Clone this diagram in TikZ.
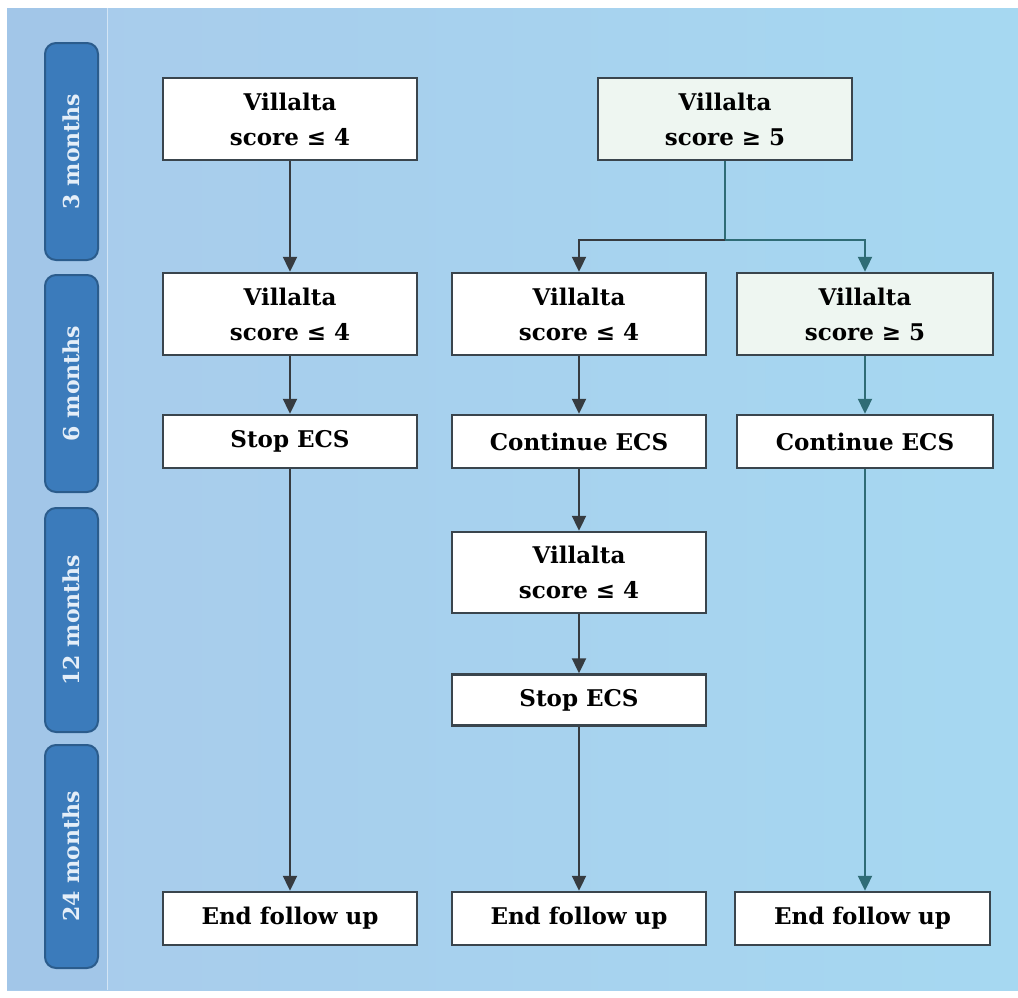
\documentclass[tikz,border=0pt]{standalone}
\usepackage{fontspec}
\setmainfont{DejaVu Serif}
\usetikzlibrary{arrows.meta}

\definecolor{panelL}{HTML}{A8CBEB}
\definecolor{panelR}{HTML}{A6D8F1}
\definecolor{stripc}{HTML}{A2C6E8}
\definecolor{tabfill}{HTML}{3B7BBB}
\definecolor{tabline}{HTML}{2B5C8C}
\definecolor{tabtext}{HTML}{E4EEF8}
\definecolor{boxline}{HTML}{3A454D}
\definecolor{greenish}{HTML}{EEF6F1}
\definecolor{linkgray}{HTML}{363B40}
\definecolor{linkteal}{HTML}{2F6C76}

\tikzset{
  box/.style={draw=boxline, line width=2.4pt, fill=white, inner sep=0pt,
    align=center, minimum width=254pt, text=black,
    font=\fontsize{23}{35}\selectfont\bfseries},
  twoline/.style={box, minimum height=82pt},
  oneline/.style={box, minimum height=53pt},
  tinted/.style={fill=greenish},
  tab/.style={draw=tabline, fill=tabfill, line width=2pt, rounded corners=11pt},
  tablabel/.style={rotate=90, text=tabtext, font=\fontsize{22}{26}\selectfont\bfseries},
  link/.style={draw=linkgray, line width=2pt,
    -{Triangle[length=15pt,width=14pt]}},
  tlink/.style={link, draw=linkteal},
}

\begin{document}
\begin{tikzpicture}[x=1pt,y=-1pt]
\useasboundingbox (0,0) rectangle (1018,997);

% background panel and timeline strip
\shade[left color=panelL, right color=panelR] (7,8) rectangle (1018,990);
\fill[stripc] (7,8) rectangle (107,990);
\draw[white, opacity=0.5, line width=1pt] (107,8) -- (107,990);

% time tabs
\draw[tab] (45,43) rectangle (98,260);
\node[tablabel] (t3) at (71.5,151.5) {3 months};
\draw[tab] (45,275) rectangle (98,492);
\node[tablabel] (t6) at (71.5,383.5) {6 months};
\draw[tab] (45,508) rectangle (98,732);
\node[tablabel] (t12) at (71.5,620) {12 months};
\draw[tab] (45,745) rectangle (98,968);
\node[tablabel] (t24) at (71.5,856.5) {24 months};

% 3 months
\node[twoline] (A) at (290,119) {Villalta\\score ≤ 4};
\node[twoline, tinted] (B) at (725,119) {Villalta\\score ≥ 5};

% 6 months
\node[twoline] (L6a) at (290,314) {Villalta\\score ≤ 4};
\node[twoline] (M6a) at (579,314) {Villalta\\score ≤ 4};
\node[twoline, tinted, minimum width=256pt] (R6a) at (865,314) {Villalta\\score ≥ 5};
\node[oneline] (L6b) at (290,441.5) {Stop ECS};
\node[oneline] (M6b) at (579,441.5) {Continue ECS};
\node[oneline, minimum width=256pt] (R6b) at (865,441.5) {Continue ECS};

% 12 months
\node[twoline, minimum height=81pt] (M12a) at (579,572.5) {Villalta\\score ≤ 4};
\node[oneline, minimum height=51pt] (M12b) at (579,700) {Stop ECS};

% 24 months
\node[oneline] (Lend) at (290,918.5) {End follow up};
\node[oneline] (Mend) at (579,918.5) {End follow up};
\node[oneline, minimum width=255pt] (Rend) at (862.5,918.5) {End follow up};

% connectors
\coordinate (split) at (725,240);
\draw[link] (A) -- (L6a);
\draw[link] (L6a) -- (L6b);
\draw[link] (L6b) -- (Lend);
\draw[draw=linkteal, line width=2pt] (B.south) -- (split);
\draw[link] (split) -| (M6a.north);
\draw[tlink] (split) -| (R6a.north);
\draw[link] (M6a) -- (M6b);
\draw[link] (M6b) -- (M12a);
\draw[link] (M12a) -- (M12b);
\draw[link] (M12b) -- (Mend);
\draw[tlink] (R6a) -- (R6b);
\draw[tlink] (R6b.south) -- (R6b.south |- Rend.north);
\end{tikzpicture}
\end{document}
